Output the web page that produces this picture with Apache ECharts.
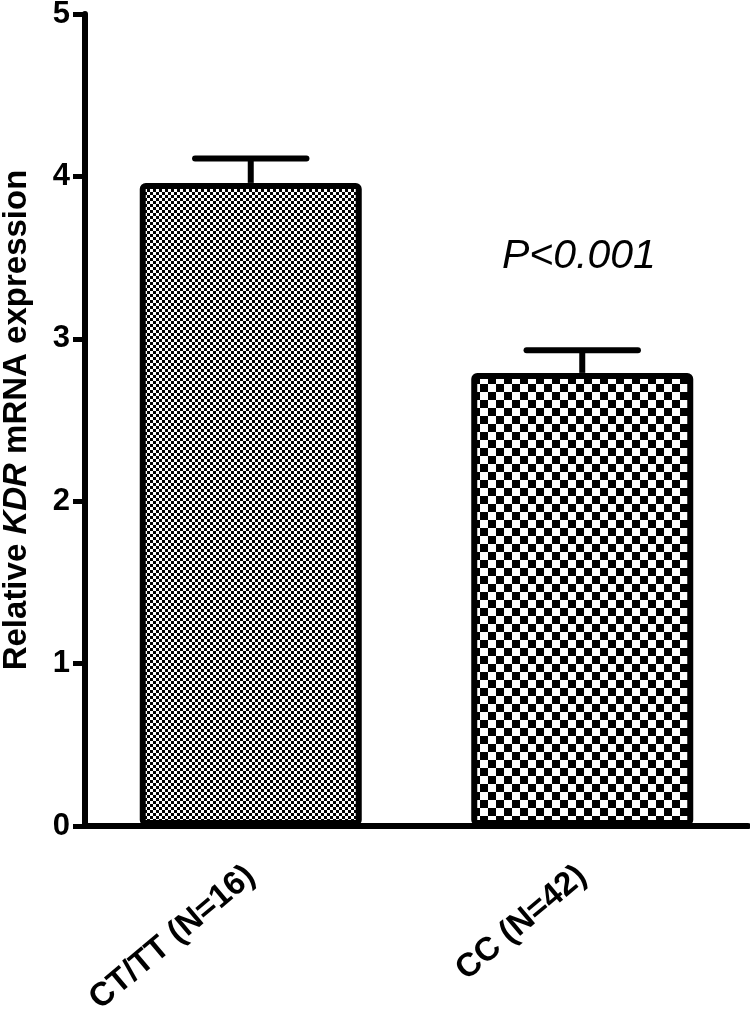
<!DOCTYPE html>
<html>
<head>
<meta charset="utf-8">
<script src="https://cdn.jsdelivr.net/npm/echarts@6/dist/echarts.min.js"></script>
<style>html,body{margin:0;padding:0;background:#fff;}#c{width:750px;height:1017px;}</style>
</head>
<body>
<div id="c"></div>
<script>
const categories = ['CT/TT (N=16)', 'CC (N=42)'];
const means = [3.96, 2.79];
const errTops = [4.11, 2.93];
const yTicks = [0, 1, 2, 3, 4, 5];
const annotation = 'P<0.001';

function checker(sq) {
  const c = document.createElement('canvas');
  c.width = sq * 2; c.height = sq * 2;
  const g = c.getContext('2d');
  g.fillStyle = '#fff'; g.fillRect(0, 0, c.width, c.height);
  g.fillStyle = '#000';
  g.fillRect(0, 0, sq, sq);
  g.fillRect(sq, sq, sq, sq);
  return c;
}
const patterns = [checker(3), checker(8)];

const chart = echarts.init(document.getElementById('c'), null, {renderer: 'canvas'});
const FONT = '"Liberation Sans", Arial, sans-serif';

chart.setOption({
  animation: false,
  backgroundColor: '#fff',
  grid: {left: 85, right: 2, top: 14, bottom: 191, containLabel: false, outerBoundsMode: 'none'},
  xAxis: {
    type: 'category',
    data: categories,
    axisLine: {lineStyle: {color: '#000', width: 6}},
    axisTick: {alignWithLabel: true, length: 13, lineStyle: {color: '#000', width: 5}},
    axisLabel: {rotate: 40, margin: 46, color: '#000', fontFamily: FONT, fontWeight: 'bold', fontSize: 33, interval: 0}
  },
  yAxis: {
    type: 'value',
    min: yTicks[0], max: yTicks[yTicks.length - 1], interval: 1,
    splitLine: {show: false},
    axisLine: {show: true, lineStyle: {color: '#000', width: 6}},
    axisTick: {show: true, length: 12, lineStyle: {color: '#000', width: 5}},
    axisLabel: {margin: 15, color: '#000', fontFamily: FONT, fontWeight: 'bold', fontSize: 31},
    name: '{b|Relative }{i|KDR}{b| mRNA expression}',
    nameLocation: 'middle',
    nameGap: 52,
    nameTextStyle: {
      rich: {
        b: {fontFamily: FONT, fontWeight: 'bold', fontSize: 33, color: '#000'},
        i: {fontFamily: FONT, fontWeight: 'bold', fontStyle: 'italic', fontSize: 33, color: '#000'}
      }
    }
  },
  series: [
    {
      type: 'custom',
      z: 1,
      data: means.map((m, i) => [i, m, errTops[i]]),
      renderItem: function (params, api) {
        const base = api.coord([api.value(0), api.value(1)]);
        const top = api.coord([api.value(0), api.value(2)]);
        const half = api.size([1, 0])[0] * 0.168;
        const st = {stroke: '#000', lineWidth: 6, lineCap: 'round'};
        return {
          type: 'group',
          children: [
            {type: 'line', shape: {x1: base[0], y1: base[1], x2: top[0], y2: top[1]}, style: {stroke: '#000', lineWidth: 6}},
            {type: 'line', shape: {x1: top[0] - half, y1: top[1], x2: top[0] + half, y2: top[1]}, style: st}
          ]
        };
      }
    },
    {
      type: 'bar',
      z: 2,
      barWidth: 222,
      data: means.map((m, i) => ({
        value: m,
        itemStyle: {
          color: {image: patterns[i], repeat: 'repeat'},
          borderColor: '#000', borderWidth: 6, borderRadius: 3
        }
      }))
    }
  ],
  graphic: [{
    type: 'text',
    left: 502, top: 236,
    style: {text: annotation, fill: '#000', font: 'italic 41px ' + FONT}
  }]
});
</script>
</body>
</html>
